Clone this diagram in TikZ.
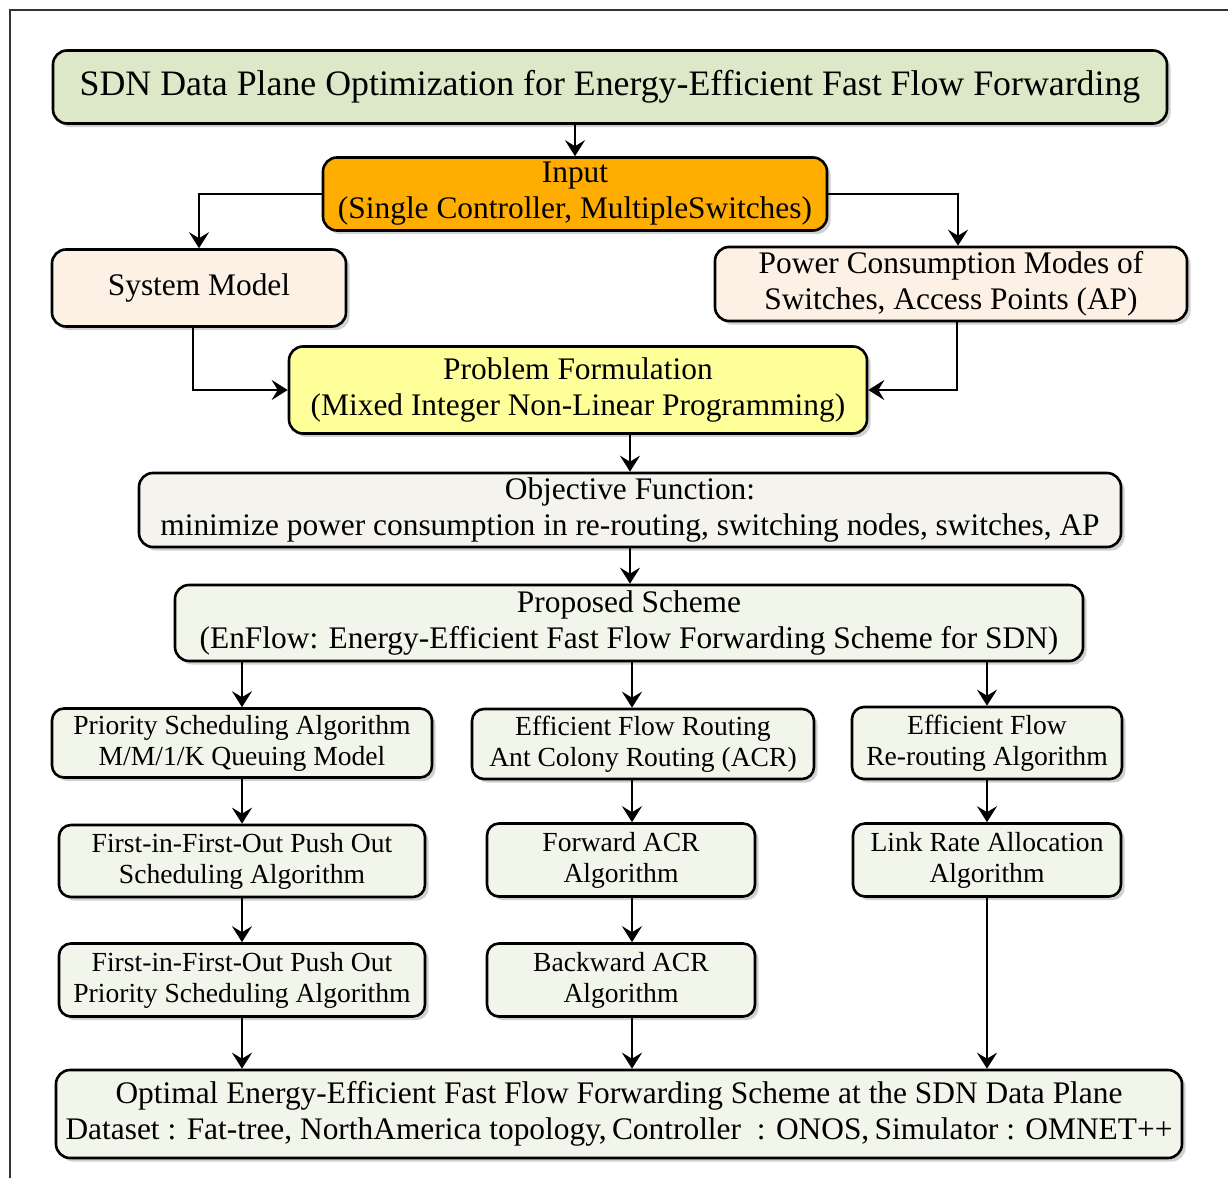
\documentclass[tikz,border=0pt]{standalone}
\usepackage{fontspec}
\setmainfont{Liberation Serif}
\usetikzlibrary{arrows.meta, shadows}

\definecolor{titlegreen}{RGB}{221,232,200}
\definecolor{inputorange}{RGB}{255,173,0}
\definecolor{modelpeach}{RGB}{253,241,230}
\definecolor{probyellow}{RGB}{255,255,153}
\definecolor{objgrey}{RGB}{244,243,238}
\definecolor{stepgreen}{RGB}{242,245,234}

\begin{document}
\begin{tikzpicture}[
    x=0.5pt, y=-0.5pt,
    box/.style={rectangle, draw, line width=1.3pt, rounded corners=7pt,
                align=center, inner sep=2pt, font=\fontsize{15.7}{18}\selectfont,
                drop shadow={shadow xshift=1.8pt, shadow yshift=-1.8pt,
                             fill=black!30, opacity=0.6}},
    smallbox/.style={box, rounded corners=6pt, fill=stepgreen,
                     font=\fontsize{13.8}{15.6}\selectfont},
    arrow/.style={-{Stealth[length=8pt, width=10pt, inset=3pt]}, line width=1.3pt}
]
  \useasboundingbox (0,0) rectangle (1228,1178);
  % frame
  \draw[line width=0.6pt, black!80] (10,1178) -- (10,10) -- (1228,10);

  % --- top part ---
  \node[box, fill=titlegreen, minimum width=557pt, minimum height=36.5pt,
        font=\fontsize{17.9}{21}\selectfont] (title) at (610,87)
    {SDN Data Plane Optimization for Energy-Efficient Fast Flow Forwarding};
  \node[box, fill=inputorange, minimum width=252pt, minimum height=36.5pt] (input) at (575,194)
    {Input\\(Single Controller, MultipleSwitches)};
  \node[box, fill=modelpeach, minimum width=147pt, minimum height=38.5pt] (sysmodel) at (199,288)
    {System Model};
  \node[box, fill=modelpeach, minimum width=236pt, minimum height=37pt] (power) at (951,284)
    {Power Consumption Modes of\\Switches, Access Points (AP)};
  \node[box, fill=probyellow, minimum width=289pt, minimum height=43.5pt] (problem) at (578,390)
    {Problem Formulation\\(Mixed Integer Non-Linear Programming)};
  \node[box, fill=objgrey, minimum width=491pt, minimum height=37pt] (objective) at (630,510)
    {Objective Function:\\minimize power consumption in re-routing, switching nodes, switches, AP};
  \node[box, fill=stepgreen, minimum width=454pt, minimum height=38pt] (scheme) at (629,623)
    {Proposed Scheme\\(EnFlow: Energy-Efficient Fast Flow Forwarding Scheme for SDN)};

  \draw[arrow] (title.south -| input.north) -- (input.north);
  \draw[arrow] (input.west) -| (sysmodel.north);
  \draw[arrow] (input.east) -| ([xshift=3.5pt]power.north);
  \draw[arrow] ([xshift=-3pt]sysmodel.south) |- (problem.west);
  \draw[arrow] ([xshift=3pt]power.south) |- (problem.east);
  \draw[arrow] (problem.south -| objective.north) -- (objective.north);
  \draw[arrow] (objective.south) -- (objective.south |- scheme.north);

  % --- three columns ---
  \node[smallbox, minimum width=190pt, minimum height=34.5pt] (priority) at (242,743)
    {Priority Scheduling Algorithm\\M/M/1/K Queuing Model};
  \node[smallbox, minimum width=171pt, minimum height=35pt] (routing) at (643,744)
    {Efficient Flow Routing\\Ant Colony Routing (ACR)};
  \node[smallbox, minimum width=135pt, minimum height=36pt] (rerouting) at (987,743)
    {Efficient Flow\\Re-routing Algorithm};
  \node[smallbox, minimum width=183pt, minimum height=36pt] (fifoout) at (242,861)
    {First-in-First-Out Push Out\\Scheduling Algorithm};
  \node[smallbox, minimum width=134pt, minimum height=36.5pt] (fwdacr) at (621,860)
    {Forward ACR\\Algorithm};
  \node[smallbox, minimum width=134pt, minimum height=36.5pt] (linkrate) at (987,860)
    {Link Rate Allocation\\Algorithm};
  \node[smallbox, minimum width=183pt, minimum height=36.5pt] (fifoprio) at (242,980)
    {First-in-First-Out Push Out\\Priority Scheduling Algorithm};
  \node[smallbox, minimum width=134pt, minimum height=36.5pt] (bwdacr) at (621,980)
    {Backward ACR\\Algorithm};
  \coordinate (midcol) at (632,0);

  % --- result ---
  \node[box, fill=stepgreen, minimum width=563pt, minimum height=44pt] (result) at (619,1114)
    {Optimal Energy-Efficient Fast Flow Forwarding Scheme at the SDN Data Plane\\
     Dataset : Fat-tree, NorthAmerica topology,\,Controller\ \ : ONOS,\,Simulator : OMNET++};

  \draw[arrow] (scheme.south -| priority.north) -- (priority.north);
  \draw[arrow] (scheme.south -| midcol) -- (routing.north -| midcol);
  \draw[arrow] (scheme.south -| rerouting.north) -- (rerouting.north);
  \draw[arrow] (priority) -- (fifoout);
  \draw[arrow] (fifoout) -- (fifoprio);
  \draw[arrow] (fifoprio.south) -- (fifoprio.south |- result.north);
  \draw[arrow] (routing.south -| midcol) -- (fwdacr.north -| midcol);
  \draw[arrow] (fwdacr.south -| midcol) -- (bwdacr.north -| midcol);
  \draw[arrow] (bwdacr.south -| midcol) -- (result.north -| midcol);
  \draw[arrow] (rerouting) -- (linkrate);
  \draw[arrow] (linkrate.south) -- (linkrate.south |- result.north);
\end{tikzpicture}
\end{document}
